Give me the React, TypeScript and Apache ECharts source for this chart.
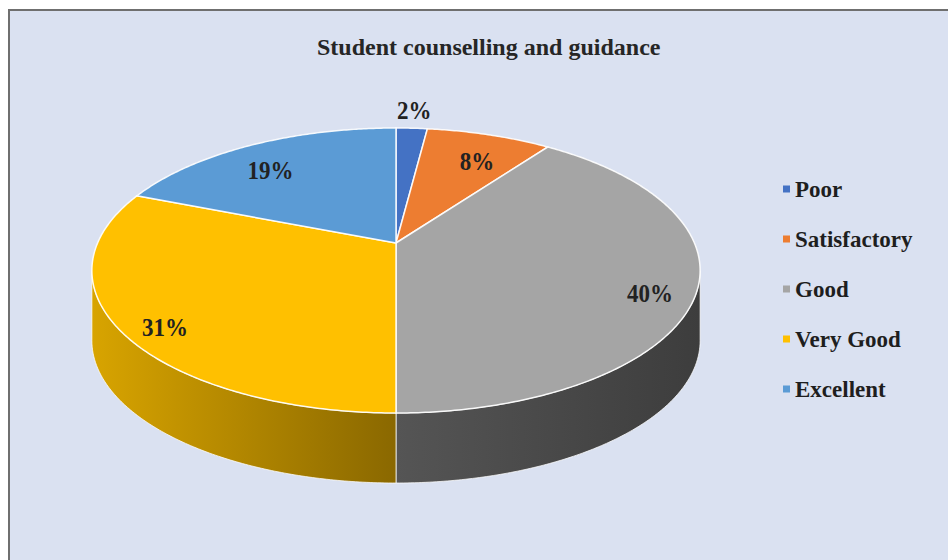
import React, { useEffect, useRef } from "react";
import * as echarts from "echarts";

const titleText = "Student counselling and guidance";
const categories = ["Poor", "Satisfactory", "Good", "Very Good", "Excellent"];
const values = [2, 8, 40, 31, 19];
const percentLabels = ["2%", "8%", "40%", "31%", "19%"];
const topColors = ["#4472C4", "#ED7D31", "#A5A5A5", "#FFC000", "#5B9BD5"];
const sideLightColors = ["#2f549a", "#b85e20", "#555555", "#d8a400", "#3f78b0"];
const sideDarkColors = ["#1f3a6e", "#8a4515", "#3d3d3d", "#8a6800", "#2b5987"];

// geometry of the tilted (perspective) pie
const CX = 396;
const CY = 243;
const RX = 298.4;
const RY = 137.2;
const PERSP = 0.193;
const DEPTH = 70;
const FONT = "Liberation Serif";

function project(theta: number, r: number, dy: number): number[] {
  const s = r * Math.sin(theta);
  const c = r * Math.cos(theta);
  const w = 1 + PERSP * c;
  return [CX + (RX * s) / w, CY - (RY * c) / w + dy];
}

function arcPoints(a1: number, a2: number, dy: number): number[][] {
  const n = Math.max(4, Math.ceil((a2 - a1) / 0.01));
  const pts: number[][] = [];
  for (let k = 0; k <= n; k++) {
    pts.push(project(a1 + ((a2 - a1) * k) / n, 1, dy));
  }
  return pts;
}

export default function App() {
  const ref = useRef<HTMLDivElement>(null);
  useEffect(() => {
    if (!ref.current) return;
    const chart = echarts.init(ref.current, null, { renderer: "svg" });
    const total = values.reduce((a, b) => a + b, 0);
    const frontStart = Math.acos(-PERSP);
    const frontEnd = 2 * Math.PI - frontStart;

    const renderItem = (params: any, api: any) => {
      const i = params.dataIndex;
      const v = api.value(0);
      let before = 0;
      for (let k = 0; k < i; k++) before += values[k];
      const a1 = (before / total) * 2 * Math.PI;
      const a2 = ((before + v) / total) * 2 * Math.PI;
      const children: any[] = [];

      const s1 = Math.max(a1, frontStart);
      const s2 = Math.min(a2, frontEnd);
      if (s2 > s1) {
        const topRim = arcPoints(s1, s2, 0);
        const botRim = arcPoints(s1, s2, DEPTH).reverse();
        children.push({
          type: "polygon",
          z2: 1,
          shape: { points: topRim.concat(botRim) },
          style: {
            fill: new echarts.graphic.LinearGradient(0, 0, 1, 0, [
              { offset: 0, color: sideLightColors[i] },
              { offset: 1, color: sideDarkColors[i] },
            ]),
            stroke: "rgba(255,255,255,0.75)",
            lineWidth: 1,
          },
        });
      }

      const top = [project(0, 0, 0)].concat(arcPoints(a1, a2, 0));
      children.push({
        type: "polygon",
        z2: 5,
        shape: { points: top },
        style: {
          fill: topColors[i],
          stroke: "rgba(255,255,255,0.9)",
          lineWidth: 1.5,
        },
      });

      const mid = (a1 + a2) / 2;
      const small = v / total < 0.05;
      const lp = small ? project(mid, 1.2, 0) : project(mid, 0.85, 12);
      children.push({
        type: "text",
        z2: 10,
        x: lp[0],
        y: lp[1],
        scaleY: 1.12,
        style: {
          text: percentLabels[i],
          fill: "#222222",
          fontSize: 23,
          fontWeight: "bold",
          fontFamily: FONT,
          align: "center",
          verticalAlign: "middle",
        },
      });
      return { type: "group", children };
    };

    chart.setOption({
      animation: false,
      backgroundColor: "#ffffff",
      title: {
        text: titleText,
        left: 312,
        top: 30,
        textStyle: {
          fontSize: 24,
          fontWeight: "bold",
          fontFamily: FONT,
          color: "#262626",
        },
      },
      legend: {
        orient: "vertical",
        left: 778,
        top: 171,
        icon: "rect",
        itemWidth: 7,
        itemHeight: 7,
        itemGap: 24,
        data: categories,
        textStyle: {
          fontSize: 23,
          fontWeight: "bold",
          fontFamily: FONT,
          color: "#1e1e1e",
          lineHeight: 26,
        },
      },
      graphic: [
        {
          type: "rect",
          silent: true,
          z: -10,
          shape: { x: 9, y: 10, width: 1000, height: 600 },
          style: { fill: "#dae1f1", stroke: "#6f6f6f", lineWidth: 2 },
        },
      ],
      series: [
        {
          type: "custom",
          coordinateSystem: "none",
          renderItem,
          silent: true,
          data: values.map((v, i) => ({ name: categories[i], value: [v] })),
        },
        {
          type: "pie",
          silent: true,
          center: [-300, -300],
          radius: 1,
          label: { show: false },
          labelLine: { show: false },
          data: categories.map((c, i) => ({
            name: c,
            value: values[i],
            itemStyle: { color: topColors[i] },
          })),
        },
      ],
    });
    return () => chart.dispose();
  }, []);
  return (
    <div
      ref={ref}
      style={{ position: "fixed", left: 0, top: 0, width: 948, height: 560 }}
    />
  );
}
